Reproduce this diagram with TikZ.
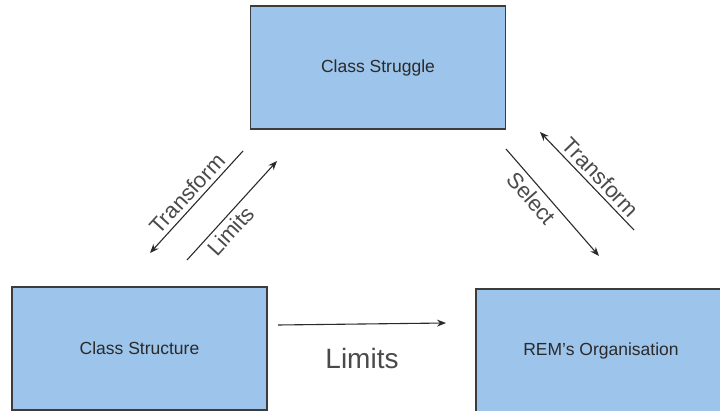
\documentclass[tikz,border=0pt]{standalone}
\usepackage{fontspec}
\setmainfont{Liberation Sans}
\usetikzlibrary{arrows.meta,positioning,calc}
\definecolor{bx}{HTML}{9DC4EA}
\definecolor{bd}{HTML}{3C3C3C}
\definecolor{tx}{HTML}{2A2A2A}
\tikzset{
  boxnode/.style={draw=bd, line width=1.6pt, fill=bx, minimum width=255pt, minimum height=123pt,
    font=\fontsize{17.5}{20}\selectfont, text=tx},
  flow/.style={draw=tx, line width=1.1pt, -{Stealth[length=9pt,width=7pt]}},
  lbl/.style={font=\fontsize{22}{24}\selectfont, text=tx!85, inner sep=4pt}
}

\begin{document}
\begin{tikzpicture}[x=1pt,y=-1pt]
  \useasboundingbox (0,0) rectangle (720,411);
  \node[boxnode] (struggle) at (378,67.5) {Class Struggle};
  \node[boxnode] (structure) at (139.5,348.5) {Class Structure};
  \node[boxnode, minimum width=258pt] (organisation) at (605,350.5) {\hspace*{-8pt}REM's Organisation};
  % arrow ends
  \coordinate (tfA) at (243,151);
  \coordinate (tfB) at (150,253);
  \coordinate (lmA) at (187,260);
  \coordinate (lmB) at (277,161);
  \coordinate (slA) at (506,149);
  \coordinate (slB) at (599,256);
  \coordinate (trA) at (634,230);
  \coordinate (trB) at (540,132);
  \coordinate (bmA) at (278,325);
  \coordinate (bmB) at (446,323);
  \draw[flow] (tfA) -- node[lbl, sloped, above, pos=0.5] (tfL) {Transform} (tfB);
  \draw[flow] (lmA) -- node[lbl, sloped, below, pos=0.38] (lmL) {Limits} (lmB);
  \draw[flow] (slA) -- node[lbl, sloped, below, pos=0.38] (slL) {Select} (slB);
  \draw[flow] (trA) -- node[lbl, sloped, above, pos=0.45] (trL) {Transform} (trB);
  \draw[flow] (bmA) -- node[lbl, below=20pt, font=\fontsize{28}{30}\selectfont] (bmL) {Limits} (bmB);
\end{tikzpicture}
\end{document}
